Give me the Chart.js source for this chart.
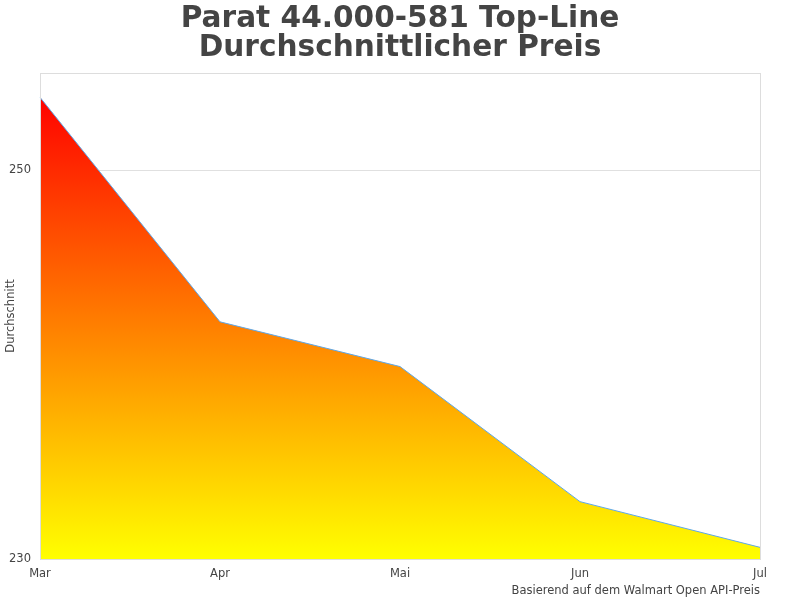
<!DOCTYPE html>
<html>
<head>
<meta charset="utf-8">
<script src="https://cdn.jsdelivr.net/npm/chart.js@4.4.0/dist/chart.umd.min.js"></script>
<style>
  body { margin: 0; background: #fff; }
  #wrap { width: 800px; height: 600px; }
</style>
</head>
<body>
<div id="wrap"><canvas id="priceChart"></canvas></div>
<script>
// Werte
const months = ['Mar', 'Apr', 'Mai', 'Jun', 'Jul'];
const avgPrice = [253.75, 242.2, 239.9, 232.95, 230.6];
const yTicks = [230, 250];

// Rahmen um die Zeichenfläche
const boxPlugin = {
  id: 'box',
  afterDatasetsDraw(chart) {
    const a = chart.chartArea;
    const ctx = chart.ctx;
    ctx.save();
    ctx.strokeStyle = '#dddddd';
    ctx.lineWidth = 1;
    ctx.strokeRect(Math.round(a.left) + 0.5, Math.round(a.top) + 0.5,
      Math.round(a.right - a.left), Math.round(a.bottom - a.top));
    ctx.restore();
  }
};

function redToYellow(context) {
  const area = context.chart.chartArea;
  if (!area) return '#ff8000';
  const g = context.chart.ctx.createLinearGradient(0, area.top + 20, 0, area.bottom);
  g.addColorStop(0, '#ff0000');
  g.addColorStop(1, '#ffff00');
  return g;
}

function initChart() {
  const ctx = document.getElementById('priceChart').getContext('2d');
  Chart.defaults.font.family = 'DejaVu Sans';
  Chart.defaults.color = '#444444';

  new Chart(ctx, {
    type: 'line',
    data: {
      labels: months,
      datasets: [{
        label: 'Durchschnitt',
        data: avgPrice,
        borderColor: '#5fa8e8',
        borderWidth: 1,
        backgroundColor: redToYellow,
        fill: 'origin',
        tension: 0,
        pointRadius: 0
      }]
    },
    options: {
      responsive: true,
      maintainAspectRatio: false,
      animation: false,
      layout: { padding: { bottom: 2 } },
      plugins: {
        legend: { display: false },
        tooltip: { enabled: false },
        title: {
          display: true,
          text: ['Parat 44.000-581 Top-Line', 'Durchschnittlicher Preis'],
          font: { size: 29.6, weight: 'bold', lineHeight: 0.98 },
          color: '#444444',
          padding: { top: 5, bottom: 10 }
        }
      },
      scales: {
        x: {
          offset: false,
          afterFit: scale => { scale.height = 39; },
          grid: { display: false, drawTicks: false },
          border: { display: false },
          ticks: { font: { size: 11.5 }, padding: 8, maxRotation: 0 },
          title: {
            display: true,
            text: 'Basierend auf dem Walmart Open API-Preis',
            align: 'end',
            font: { size: 11.5 },
            padding: { top: 2, bottom: 0 }
          }
        },
        y: {
          min: 230,
          max: 255,
          afterBuildTicks: scale => { scale.ticks = yTicks.map(v => ({ value: v })); },
          afterFit: scale => { scale.width = 40; },
          grid: { color: '#e0e0e0', drawTicks: false },
          border: { display: false },
          ticks: { font: { size: 11.5 }, padding: 9 },
          title: {
            display: true,
            text: 'Durchschnitt',
            font: { size: 11.5 },
            padding: 4
          }
        },
        // leere rechte Achse, damit der Titel mittig über der Seite steht
        yRight: {
          position: 'right',
          min: 230,
          max: 255,
          afterFit: scale => { scale.width = 40; },
          grid: { display: false },
          border: { display: false },
          ticks: { display: false }
        }
      }
    },
    plugins: [boxPlugin]
  });
}

window.addEventListener('DOMContentLoaded', initChart);
</script>
</body>
</html>
